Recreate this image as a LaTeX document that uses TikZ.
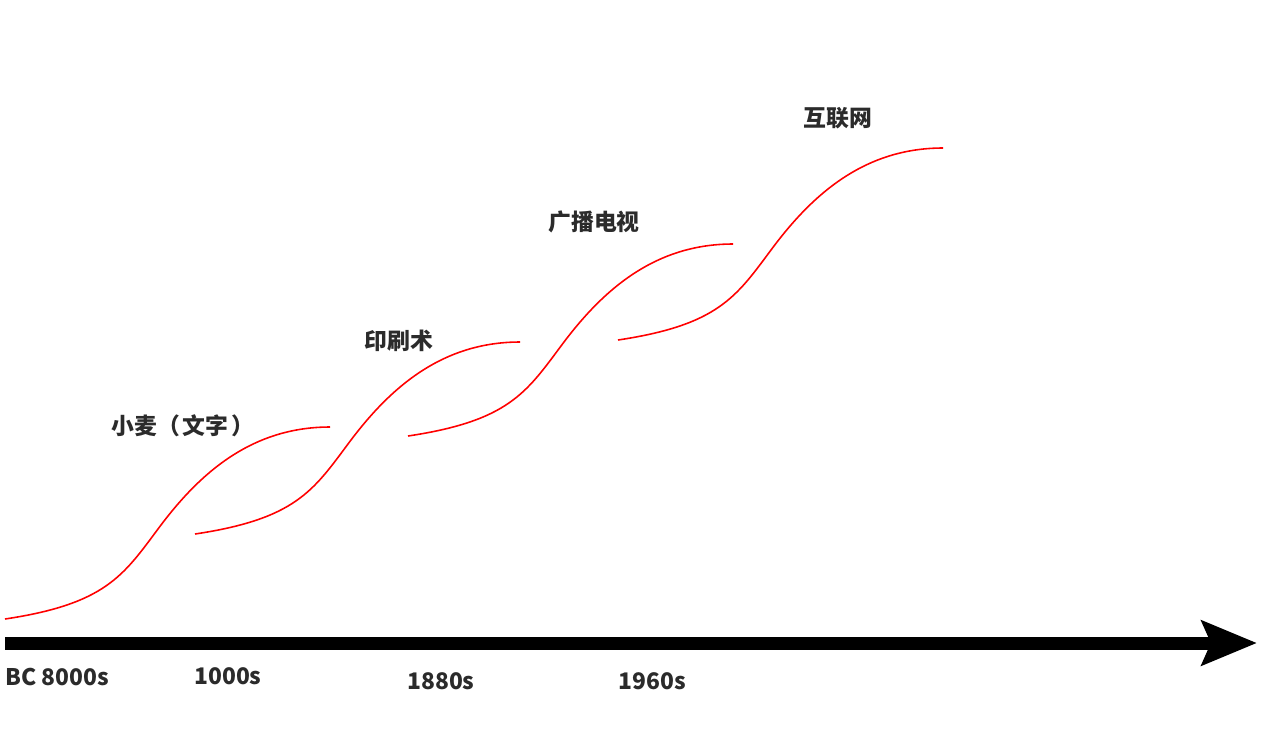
\documentclass[tikz,border=0pt]{standalone}
\usepackage{fontspec}
\usepackage{xcolor}
\usetikzlibrary{arrows.meta}
\newfontfamily\cjk{Noto Sans CJK SC}
\definecolor{labelgray}{RGB}{43,43,43}
\definecolor{curvered}{RGB}{255,0,0}

\begin{document}
\begin{tikzpicture}[
  x=0.02cm, y=-0.02cm,
  every node/.style={font=\cjk\bfseries\fontsize{13}{15}\selectfont, text=labelgray, inner sep=0pt},
  era/.style={anchor=center},
  year/.style={anchor=west},
  scurve/.style={draw=curvered, line width=0.9pt},
  timeline/.style={-{Stealth[length=1.1cm, width=0.88cm, inset=0.18cm]}, line width=0.26cm, draw=black}
]
\useasboundingbox (0,0) rectangle (1280,728);

% the four growth waves
\foreach \sx/\sy in {5/619, 195/534, 408/436, 618/340} {
  \begin{scope}[shift={(\sx,\sy)}]
    \draw[scurve] (0,0) .. controls (100,-15) and (118,-43) .. (153,-90)
                        .. controls (193,-144) and (245,-192) .. (325,-192);
  \end{scope}
}

% labels of the waves
\node[era] (wheat) at (183,426) {小麦（\hspace{0.12em}文字\hspace{0.12em}）};
\node[era] (printing) at (399,341) {印刷术};
\node[era] (broadcast) at (594,222) {广播电视};
\node[era] (internet) at (838,118) {互联网};

% time axis
\coordinate (origin) at (5,643);
\coordinate (future) at (1257,643);
\draw[timeline] (origin) -- (future);

\node[year] (bc8000) at (5,677) {BC 8000s};
\node[year] (y1000) at (194,676) {1000s};
\node[year] (y1880) at (407,681) {1880s};
\node[year] (y1960) at (618,681) {1960s};
\end{tikzpicture}
\end{document}
